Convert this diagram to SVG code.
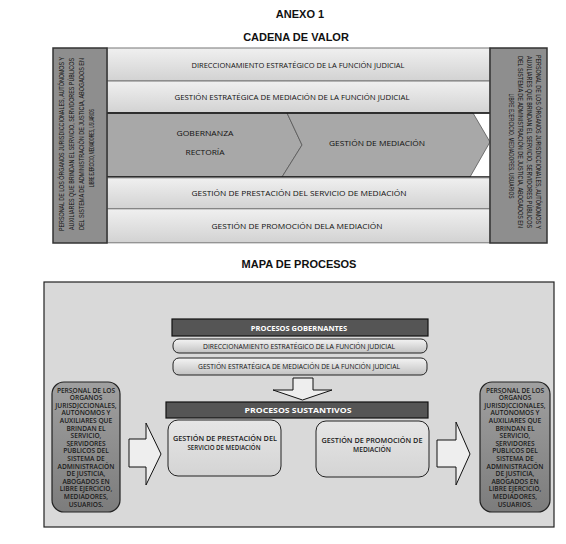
<svg xmlns="http://www.w3.org/2000/svg" width="566" height="544" viewBox="0 0 566 544">
<defs>
<linearGradient id="rowG" x1="0" y1="0" x2="0" y2="1"><stop offset="0" stop-color="#f0f0f0"/><stop offset="1" stop-color="#d2d2d2"/></linearGradient>
<linearGradient id="pillG" x1="0" y1="0" x2="0" y2="1"><stop offset="0" stop-color="#f4f4f4"/><stop offset="1" stop-color="#c2c2c2"/></linearGradient>
<linearGradient id="boxG" x1="0" y1="0" x2="0" y2="1"><stop offset="0" stop-color="#e6e6e6"/><stop offset="1" stop-color="#d4d4d4"/></linearGradient>
<linearGradient id="persG" x1="0" y1="0" x2="0" y2="1"><stop offset="0" stop-color="#a0a0a0"/><stop offset="1" stop-color="#7c7c7c"/></linearGradient>
<style>
.title{font-family:"Liberation Sans",Arial,sans-serif;font-weight:bold;font-size:11px;fill:#111;text-anchor:middle}
.ts{font-family:"Open Sans","Noto Sans",sans-serif;font-size:6.3px;fill:#111;text-anchor:middle}
.tb{font-family:"Open Sans","Noto Sans",sans-serif;font-size:6.6px;font-weight:600;fill:#1a1a1a;text-anchor:middle}
.tw{font-family:"Open Sans","Noto Sans",sans-serif;font-size:7.5px;font-weight:bold;fill:#fff;text-anchor:middle}
.tv{font-family:"Liberation Sans",Arial,sans-serif;font-size:7.4px;fill:#111;text-anchor:middle}
.row{fill:url(#rowG);stroke:#777;stroke-width:1}
.side{fill:#8e8e8e;stroke:#333;stroke-width:1.5}
.chev{fill:#a8a8a8;stroke:#555;stroke-width:0.8}
.bar{fill:#555;stroke:#111;stroke-width:1.2}
.pill{fill:url(#pillG);stroke:#222;stroke-width:1}
.pbox{fill:url(#boxG);stroke:#222;stroke-width:1}
.pers{fill:url(#persG);stroke:#222;stroke-width:1.2}
.arrow{fill:#eeeeee;stroke:#111;stroke-width:1}
</style>
</defs>
<rect width="566" height="544" fill="#fff"/>
<text class="title" x="300" y="18">ANEXO 1</text>
<text class="title" x="296" y="41">CADENA DE VALOR</text>

<g id="cadena">
<g id="row1"><rect class="row" x="107" y="48" width="383" height="33"/><text class="ts" x="298" y="67.5" textLength="213" lengthAdjust="spacingAndGlyphs">DIRECCIONAMIENTO ESTRATÉGICO DE LA FUNCIÓN JUDICIAL</text></g>
<g id="row2"><rect class="row" x="107" y="81" width="383" height="32"/><text class="ts" x="292" y="99.5" textLength="235" lengthAdjust="spacingAndGlyphs">GESTIÓN ESTRATÉGICA DE MEDIACIÓN DE LA FUNCIÓN JUDICIAL</text></g>
<g id="chev1"><polygon class="chev" points="107,113 287,113 302,145 282,177 107,177"/><text class="ts" x="205" y="135.5" textLength="57" lengthAdjust="spacingAndGlyphs">GOBERNANZA</text><text class="ts" x="205" y="154.5" textLength="39" lengthAdjust="spacingAndGlyphs">RECTORÍA</text></g>
<g id="chev2"><polygon class="chev" points="287,113 473,113 490,142 470,177 282,177 302,145"/><text class="ts" x="377" y="145.5" textLength="96" lengthAdjust="spacingAndGlyphs">GESTIÓN DE MEDIACIÓN</text></g>
<line x1="107" y1="113" x2="490" y2="113" stroke="#111" stroke-width="1.5"/>
<line x1="107" y1="177" x2="490" y2="177" stroke="#111" stroke-width="1.5"/>
<g id="row4"><rect class="row" x="107" y="177.8" width="383" height="31"/><text class="ts" x="299" y="195.5" textLength="215" lengthAdjust="spacingAndGlyphs">GESTIÓN DE PRESTACIÓN DEL SERVICIO DE MEDIACIÓN</text></g>
<g id="row5"><rect class="row" x="107" y="208.8" width="383" height="34"/><text class="ts" x="297" y="228.5" textLength="171" lengthAdjust="spacingAndGlyphs">GESTIÓN DE PROMOCIÓN DELA MEDIACIÓN</text></g>
<g id="sideL"><rect class="side" x="53" y="48" width="54" height="195"/>
<g transform="translate(0,144) rotate(-90)">
<text class="tv" x="0" y="64" textLength="174" lengthAdjust="spacingAndGlyphs">PERSONAL DE LOS ÓRGANOS JURISDICCIONALES, AUTÓNOMOS Y</text>
<text class="tv" x="0" y="74" textLength="172" lengthAdjust="spacingAndGlyphs">AUXILIARES QUE BRINDAN EL SERVICIO, SERVIDORES PÚBLICOS</text>
<text class="tv" x="0" y="84" textLength="172" lengthAdjust="spacingAndGlyphs">DEL SISTEMA DE ADMINISTRACIÓN DE JUSTICIA, ABOGADOS EN</text>
<text class="tv" x="-4" y="94" textLength="78" lengthAdjust="spacingAndGlyphs">LIBRE EJERCICIO, MEDIADORES, USUARIOS</text>
</g></g>
<g id="sideR"><rect class="side" x="490" y="48" width="57" height="195"/>
<g transform="translate(0,142) rotate(90)">
<text class="tv" x="0" y="-536" textLength="174" lengthAdjust="spacingAndGlyphs">PERSONAL DE LOS ÓRGANOS JURISDICCIONALES, AUTÓNOMOS Y</text>
<text class="tv" x="0" y="-527" textLength="172" lengthAdjust="spacingAndGlyphs">AUXILIARES QUE BRINDAN EL SERVICIO, SERVIDORES PÚBLICOS</text>
<text class="tv" x="0" y="-518" textLength="172" lengthAdjust="spacingAndGlyphs">DEL SISTEMA DE ADMINISTRACIÓN DE JUSTICIA, ABOGADOS EN</text>
<text class="tv" x="4" y="-509" textLength="105" lengthAdjust="spacingAndGlyphs">LIBRE EJERCICIO, MEDIADORES, USUARIOS</text>
</g></g>
</g>

<text class="title" x="299" y="268">MAPA DE PROCESOS</text>

<g id="mapa">
<rect x="44" y="282" width="510" height="245" fill="#d9d9d9" stroke="#222" stroke-width="1.2"/>
<g id="gobernantes"><rect class="bar" x="172" y="319" width="256" height="17"/><text class="tw" x="299" y="330.5">PROCESOS GOBERNANTES</text></g>
<g id="direccionamiento"><rect class="pill" x="173" y="339" width="254" height="14" rx="6"/><text class="ts" x="299" y="348.5" textLength="192" lengthAdjust="spacingAndGlyphs">DIRECCIONAMIENTO ESTRATÉGICO DE LA FUNCIÓN JUDICIAL</text></g>
<g id="estrategica"><rect class="pill" x="173" y="358" width="254" height="17" rx="6"/><text class="ts" x="299" y="369" textLength="202" lengthAdjust="spacingAndGlyphs">GESTIÓN ESTRATÉGICA DE MEDIACIÓN DE LA FUNCIÓN JUDICIAL</text></g>
<g id="sustantivos"><rect class="bar" x="166" y="402" width="262" height="16"/><text class="tw" x="298" y="413" textLength="107" lengthAdjust="spacingAndGlyphs">PROCESOS SUSTANTIVOS</text></g>
<g id="prestacion"><rect class="pbox" x="168" y="420" width="113" height="56" rx="10"/><text class="tb" x="225" y="440.5" textLength="104" lengthAdjust="spacingAndGlyphs">GESTIÓN DE PRESTACIÓN DEL</text><text class="tb" x="224" y="449.5" textLength="73" lengthAdjust="spacingAndGlyphs">SERVICIO DE MEDIACIÓN</text></g>
<g id="promocion"><rect class="pbox" x="316" y="421" width="113" height="56" rx="10"/><text class="tb" x="372" y="442.5" textLength="101" lengthAdjust="spacingAndGlyphs">GESTIÓN DE PROMOCIÓN DE</text><text class="tb" x="372" y="451.5" textLength="38" lengthAdjust="spacingAndGlyphs">MEDIACIÓN</text></g>
<g id="personasL"><rect class="pers" x="52" y="382" width="68" height="130" rx="12"/>
<text class="tb" x="86" y="392.5">PERSONAL DE LOS</text>
<text class="tb" x="86" y="400.1">ÓRGANOS</text>
<text class="tb" x="86" y="407.7">JURISDICCIONALES,</text>
<text class="tb" x="86" y="415.3">AUTÓNOMOS Y</text>
<text class="tb" x="86" y="422.9">AUXILIARES QUE</text>
<text class="tb" x="86" y="430.5">BRINDAN EL</text>
<text class="tb" x="86" y="438.1">SERVICIO,</text>
<text class="tb" x="86" y="445.7">SERVIDORES</text>
<text class="tb" x="86" y="453.3">PÚBLICOS DEL</text>
<text class="tb" x="86" y="460.9">SISTEMA DE</text>
<text class="tb" x="86" y="468.5">ADMINISTRACIÓN</text>
<text class="tb" x="86" y="476.1">DE JUSTICIA,</text>
<text class="tb" x="86" y="483.7">ABOGADOS EN</text>
<text class="tb" x="86" y="491.3">LIBRE EJERCICIO,</text>
<text class="tb" x="86" y="498.9">MEDIADORES,</text>
<text class="tb" x="86" y="506.5">USUARIOS.</text>
</g>
<g id="personasR"><rect class="pers" x="480" y="382" width="70" height="130" rx="12"/>
<text class="tb" x="515" y="392.5">PERSONAL DE LOS</text>
<text class="tb" x="515" y="400.1">ÓRGANOS</text>
<text class="tb" x="515" y="407.7">JURISDICCIONALES,</text>
<text class="tb" x="515" y="415.3">AUTÓNOMOS Y</text>
<text class="tb" x="515" y="422.9">AUXILIARES QUE</text>
<text class="tb" x="515" y="430.5">BRINDAN EL</text>
<text class="tb" x="515" y="438.1">SERVICIO,</text>
<text class="tb" x="515" y="445.7">SERVIDORES</text>
<text class="tb" x="515" y="453.3">PÚBLICOS DEL</text>
<text class="tb" x="515" y="460.9">SISTEMA DE</text>
<text class="tb" x="515" y="468.5">ADMINISTRACIÓN</text>
<text class="tb" x="515" y="476.1">DE JUSTICIA,</text>
<text class="tb" x="515" y="483.7">ABOGADOS EN</text>
<text class="tb" x="515" y="491.3">LIBRE EJERCICIO,</text>
<text class="tb" x="515" y="498.9">MEDIADORES,</text>
<text class="tb" x="515" y="506.5">USUARIOS.</text>
</g>
<g id="connectors">
<polygon class="arrow" points="293,378 313,378 313,390 332,390 302.5,400 273,390 293,390"/>
<polygon class="arrow" points="129,439 146,439 146,423 161,454 146,485 146,467 129,467"/>
<polygon class="arrow" points="437,440 456,440 456,422 470,454 456,485 456,467 437,467"/>
</g>
</g>
</svg>
